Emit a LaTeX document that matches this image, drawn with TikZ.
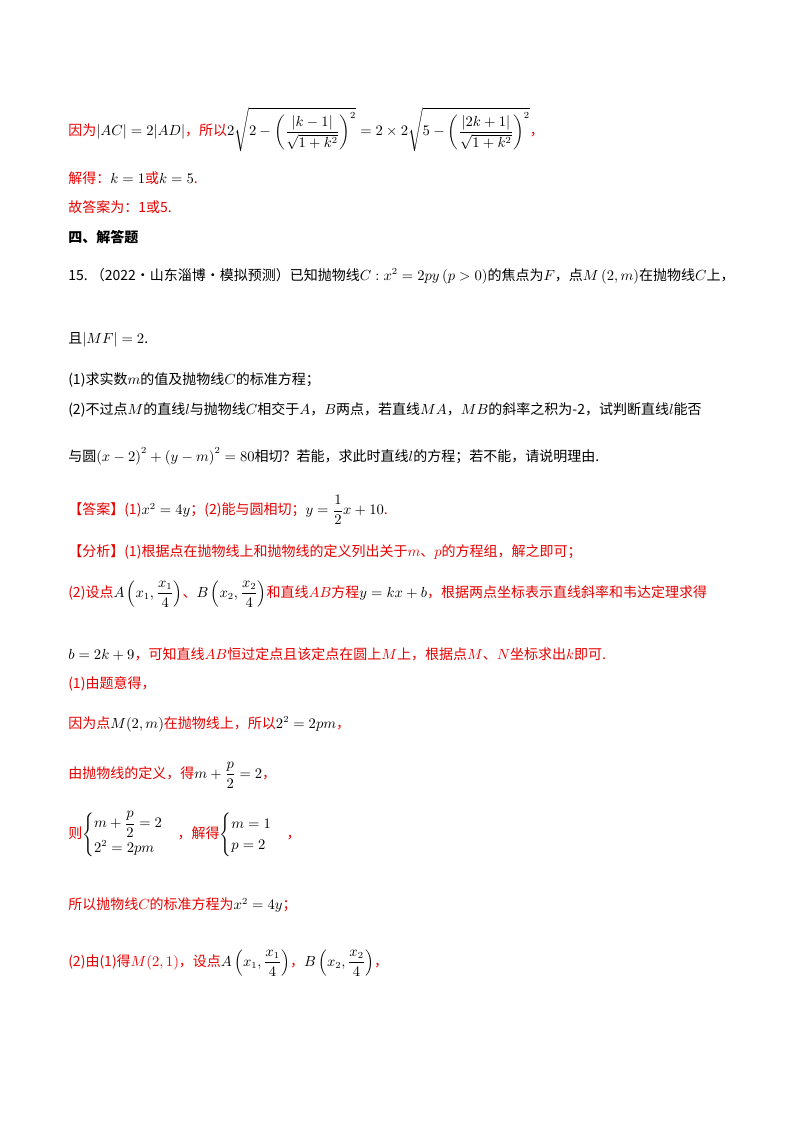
\documentclass[tikz,border=0pt]{standalone}
\usepackage{amsmath}
\usepackage{fontspec}
\setmainfont{Liberation Serif}
\newfontfamily\cjk{Noto Sans CJK SC}
\definecolor{rd}{RGB}{230,0,0}
\begin{document}
\begin{tikzpicture}[x=0.75pt,y=-0.75pt,
  ln/.style={anchor=west,inner sep=0pt,font=\fontsize{10.5}{13}\selectfont\cjk}]
\useasboundingbox (0,0) rectangle (800,1132);
\node[ln] (l1) at (68,130) {\color{rd}因为\color{black}$|AC|=2|AD|$\color{rd}，所以\color{black}$2\sqrt{2-\left(\dfrac{|k-1|}{\sqrt{1+k^2}}\right)^{2}}=2\times2\sqrt{5-\left(\dfrac{|2k+1|}{\sqrt{1+k^2}}\right)^{2}}$\color{rd}，};
\node[ln] (l2) at (68,178) {\color{rd}解得：\color{black}$k=1$\color{rd}或\color{black}$k=5$\color{rd}.};
\node[ln] (l3) at (68,207) {\color{rd}故答案为：1或5.};
\node[ln,font=\fontsize{10.5}{13}\selectfont\cjk\bfseries] (l4) at (68,237) {四、解答题};
\node[ln] (l5) at (68,276) {15.\ （2022·山东淄博·模拟预测）已知抛物线$C:x^2=2py\left(p>0\right)$的焦点为$F$，点$M\left(2,m\right)$在抛物线$C$上，};
\node[ln] (l6) at (68,340) {且$|MF|=2$.};
\node[ln] (l7) at (68,380) {(1)求实数$m$的值及抛物线$C$的标准方程；};
\node[ln] (l8) at (68,410) {(2)不过点$M$的直线$l$与抛物线$C$相交于$A$，$B$两点，若直线$MA$，$MB$的斜率之积为-2，试判断直线$l$能否};
\node[ln] (l9) at (68,456) {与圆$\left(x-2\right)^2+\left(y-m\right)^2=80$相切？若能，求此时直线$l$的方程；若不能，请说明理由.};
\node[ln] (l10) at (68,510) {\color{rd}【答案】(1)\color{black}$x^2=4y$\color{rd}；(2)能与圆相切；\color{black}$y=\dfrac{1}{2}x+10$\color{rd}.};
\node[ln] (l11) at (68,552) {\color{rd}【分析】(1)根据点在抛物线上和抛物线的定义列出关于$m$、$p$的方程组，解之即可；};
\node[ln] (l12) at (68,594) {\color{rd}(2)设点\color{black}$A\left(x_1,\dfrac{x_1}{4}\right)$\color{rd}、\color{black}$B\left(x_2,\dfrac{x_2}{4}\right)$\color{rd}和直线$AB$方程\color{black}$y=kx+b$\color{rd}，根据两点坐标表示直线斜率和韦达定理求得};
\node[ln] (l13) at (68,654) {$b=2k+9$\color{rd}，可知直线$AB$恒过定点且该定点在圆上$M$上，根据点$M$、$N$坐标求出$k$即可.};
\node[ln] (l14) at (68,684) {\color{rd}(1)由题意得，};
\node[ln] (l15) at (68,724) {\color{rd}因为点\color{black}$M(2,m)$\color{rd}在抛物线上，所以\color{black}$2^2=2pm$\color{rd}，};
\node[ln] (l16) at (68,775) {\color{rd}由抛物线的定义，得\color{black}$m+\dfrac{p}{2}=2$\color{rd}，};
\node[ln] (l17) at (68,835) {\color{rd}则\color{black}$\begin{cases}m+\dfrac{p}{2}=2\\[2pt]2^2=2pm\end{cases}$\color{rd}，解得\color{black}$\begin{cases}m=1\\p=2\end{cases}$\color{rd}，};
\node[ln] (l18) at (68,905) {\color{rd}所以抛物线$C$的标准方程为\color{black}$x^2=4y$\color{rd}；};
\node[ln] (l19) at (68,963) {\color{rd}(2)由(1)得$M(2,1)$，设点\color{black}$A\left(x_1,\dfrac{x_1}{4}\right)$\color{rd}，\color{black}$B\left(x_2,\dfrac{x_2}{4}\right)$\color{rd}，};
\end{tikzpicture}
\end{document}
